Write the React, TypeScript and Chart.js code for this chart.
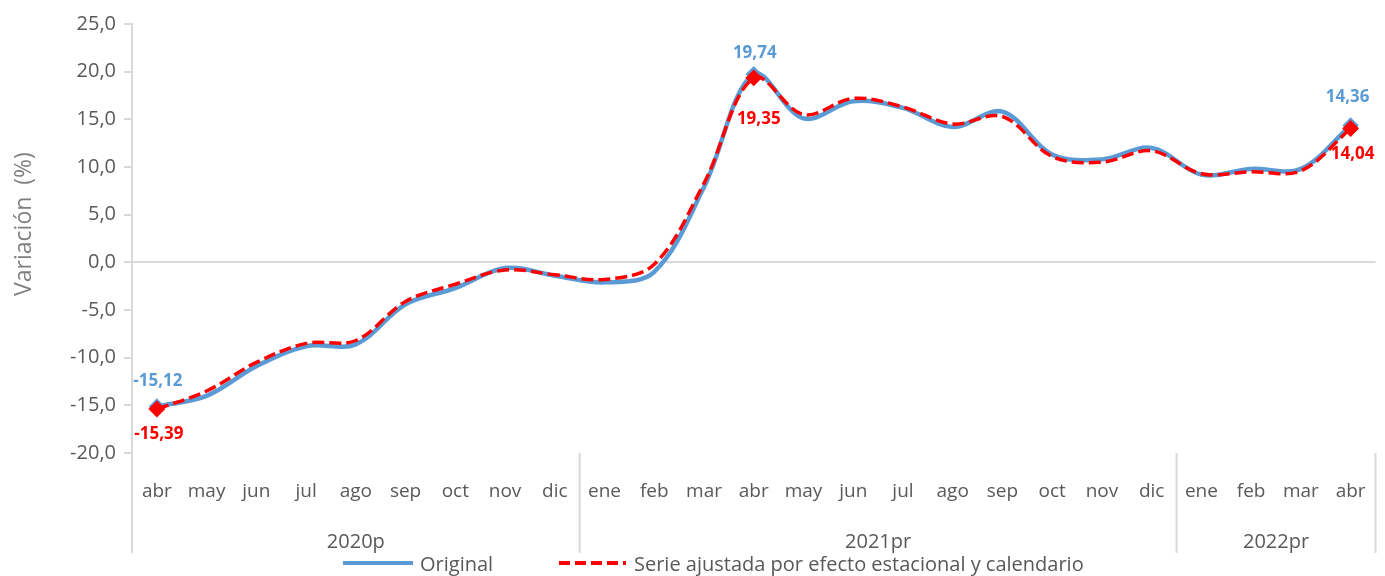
import React, { useEffect, useRef } from 'react';
import { Chart, registerables } from 'chart.js';

Chart.register(...registerables);

const months = ['abr', 'may', 'jun', 'jul', 'ago', 'sep', 'oct', 'nov', 'dic', 'ene', 'feb', 'mar', 'abr', 'may', 'jun', 'jul', 'ago', 'sep', 'oct', 'nov', 'dic', 'ene', 'feb', 'mar', 'abr'];
const groupLabels = ['2020p', '2021pr', '2022pr'];
const groupSizes = [9, 12, 4];
const original = [-15.12, -14.0, -10.9, -8.8, -8.6, -4.4, -2.7, -0.6, -1.4, -2.1, -1.0, 7.9, 19.74, 15.1, 16.9, 16.2, 14.2, 15.8, 11.3, 10.8, 12.0, 9.2, 9.8, 9.8, 14.36];
const ajustada = [-15.39, -13.5, -10.5, -8.5, -8.2, -4.1, -2.3, -0.8, -1.3, -1.8, -0.2, 8.3, 19.35, 15.5, 17.2, 16.3, 14.5, 15.3, 11.1, 10.5, 11.7, 9.3, 9.5, 9.6, 14.04];
const labeledIdx = [0, 12, 24];
const seriesNames = ['Original', 'Serie ajustada por efecto estacional y calendario'];
const yTitle = 'Variación  (%)';
const yMin = -20;
const yMax = 25;
const yStep = 5;

const FONT = "'Open Sans', 'Noto Sans', sans-serif";
const BLUE = '#5B9BD5';
const RED = '#FF0000';
const TEXT = '#595959';
const AXIS = '#D9D9D9';

const fmt = (v: number, d: number) => v.toFixed(d).replace('.', ',');

export default function App() {
  const ref = useRef<HTMLCanvasElement>(null);

  useEffect(() => {
    const canvas = ref.current;
    if (!canvas) return;

    // label offsets (style only)
    const blueOff = [[1, -25], [1, -21], [-3, -28]];
    const redOff = [[2, 25], [5, 41], [2, 26]];

    const custom = {
      id: 'custom',
      afterDatasetsDraw(chart: any) {
        const ctx = chart.ctx;
        ctx.save();
        ctx.font = `bold 17px ${FONT}`;
        ctx.textAlign = 'center';
        ctx.textBaseline = 'middle';
        const mb = chart.getDatasetMeta(0);
        const mr = chart.getDatasetMeta(1);
        labeledIdx.forEach((idx, k) => {
          const pb = mb.data[idx];
          const pr = mr.data[idx];
          ctx.fillStyle = BLUE;
          ctx.fillText(fmt(original[idx], 2), pb.x + blueOff[k][0], pb.y + blueOff[k][1]);
          ctx.fillStyle = RED;
          ctx.fillText(fmt(ajustada[idx], 2), pr.x + redOff[k][0], pr.y + redOff[k][1]);
        });
        ctx.restore();
      },
      afterDraw(chart: any) {
        const ctx = chart.ctx;
        const area = chart.chartArea;
        const xs = chart.scales.x;
        const step = xs.getPixelForValue(1) - xs.getPixelForValue(0);
        const bottomLine = 553;
        ctx.save();
        // group separators
        ctx.strokeStyle = AXIS;
        ctx.lineWidth = 2;
        let start = 0;
        const bounds: number[] = [xs.getPixelForValue(0) - step / 2];
        groupSizes.forEach((n) => {
          start += n;
          bounds.push(xs.getPixelForValue(start - 1) + step / 2);
        });
        bounds.forEach((bx) => {
          ctx.beginPath();
          ctx.moveTo(bx, area.bottom);
          ctx.lineTo(bx, bottomLine);
          ctx.stroke();
        });
        // group labels
        ctx.fillStyle = TEXT;
        ctx.font = `20px ${FONT}`;
        ctx.textAlign = 'center';
        ctx.textBaseline = 'alphabetic';
        groupLabels.forEach((g, i) => {
          ctx.fillText(g, (bounds[i] + bounds[i + 1]) / 2, 548);
        });
        // y title
        ctx.save();
        ctx.translate(24, 224);
        ctx.rotate(-Math.PI / 2);
        ctx.font = `23px ${FONT}`;
        ctx.fillStyle = '#808080';
        ctx.textBaseline = 'middle';
        ctx.textAlign = 'center';
        ctx.fillText(yTitle, 0, 0);
        ctx.restore();
        // legend
        const ly = 563;
        ctx.lineWidth = 4;
        ctx.strokeStyle = BLUE;
        ctx.setLineDash([]);
        ctx.beginPath();
        ctx.moveTo(343, ly);
        ctx.lineTo(413, ly);
        ctx.stroke();
        ctx.strokeStyle = RED;
        ctx.setLineDash([11, 5]);
        ctx.beginPath();
        ctx.moveTo(559, ly);
        ctx.lineTo(626, ly);
        ctx.stroke();
        ctx.setLineDash([]);
        ctx.fillStyle = TEXT;
        ctx.font = `20px ${FONT}`;
        ctx.textAlign = 'left';
        ctx.textBaseline = 'alphabetic';
        ctx.fillText(seriesNames[0], 420, 571);
        ctx.fillText(seriesNames[1], 634, 571);
        ctx.restore();
      },
    };

    const markRadius = (r: number) => (c: any) => (labeledIdx.includes(c.dataIndex) ? r : 0);

    const chart = new Chart(canvas, {
      type: 'line',
      data: {
        labels: months,
        datasets: [
          {
            label: seriesNames[0],
            data: original,
            borderColor: BLUE,
            backgroundColor: BLUE,
            borderWidth: 4.5,
            tension: 0.35,
            borderJoinStyle: 'round',
            pointStyle: 'rectRot',
            pointRadius: markRadius(5),
            pointHoverRadius: 0,
            order: 2,
          },
          {
            label: seriesNames[1],
            data: ajustada,
            borderColor: RED,
            backgroundColor: RED,
            borderWidth: 3.5,
            borderDash: [12, 5],
            tension: 0.35,
            borderJoinStyle: 'round',
            pointStyle: 'rectRot',
            pointRadius: markRadius(6),
            pointHoverRadius: 0,
            order: 1,
          },
        ],
      } as any,
      options: {
        responsive: false,
        animation: false,
        devicePixelRatio: 1,
        events: [],
        layout: { padding: { top: 24, right: 5, left: 0, bottom: 0 } },
        plugins: { legend: { display: false }, tooltip: { enabled: false } },
        scales: {
          x: {
            type: 'category',
            offset: true,
            grid: { display: false, drawTicks: false },
            border: { display: false },
            ticks: {
              autoSkip: false,
              maxRotation: 0,
              minRotation: 0,
              padding: 27,
              color: TEXT,
              font: { size: 19, family: FONT },
            },
            afterFit: (s: any) => {
              s.height = 123;
              s.paddingLeft = 0;
              s.paddingRight = 0;
            },
          },
          y: {
            min: yMin,
            max: yMax,
            ticks: {
              stepSize: yStep,
              padding: 8,
              color: TEXT,
              font: { size: 20, family: FONT },
              callback: (v: any) => fmt(Number(v), 1),
            },
            grid: {
              color: (c: any) => (c.tick && c.tick.value === 0 ? AXIS : 'rgba(0,0,0,0)'),
              lineWidth: 2,
              tickColor: AXIS,
              tickLength: 8,
              drawTicks: true,
            },
            border: { display: true, color: AXIS, width: 2 },
            afterFit: (s: any) => {
              s.width = 132;
            },
          },
        },
      } as any,
      plugins: [custom],
    });

    return () => chart.destroy();
  }, []);

  return (
    <div style={{ position: 'fixed', left: 0, top: 0, width: 1385, height: 576, background: '#fff' }}>
      <canvas ref={ref} width={1385} height={576} style={{ width: 1385, height: 576, display: 'block' }} />
    </div>
  );
}
